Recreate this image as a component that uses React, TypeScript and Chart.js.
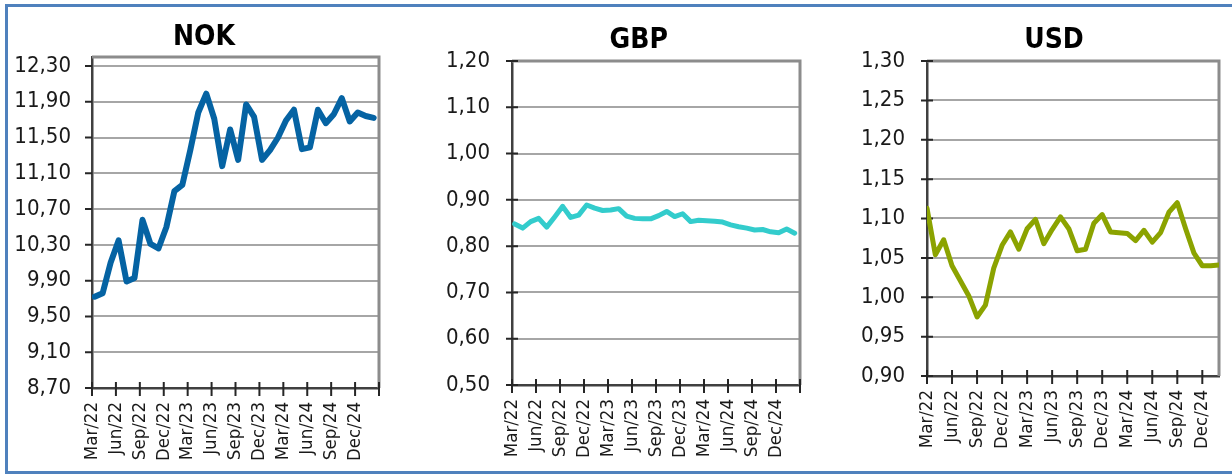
import React, { useEffect, useRef } from 'react';
import { Chart, registerables } from 'chart.js';

Chart.register(...registerables);

// ---- data ----
const quarterLabels = ['Mar/22', 'Jun/22', 'Sep/22', 'Dec/22', 'Mar/23', 'Jun/23', 'Sep/23', 'Dec/23', 'Mar/24', 'Jun/24', 'Sep/24', 'Dec/24'];

const nokValues = [9.72, 9.76, 10.10, 10.35, 9.89, 9.93, 10.58, 10.31, 10.26, 10.50, 10.90, 10.97, 11.36, 11.78, 11.99, 11.71, 11.18, 11.59, 11.25, 11.87, 11.73, 11.25, 11.36, 11.50, 11.69, 11.81, 11.37, 11.39, 11.81, 11.66, 11.76, 11.94, 11.68, 11.78, 11.74, 11.72];
const gbpValues = [0.848, 0.839, 0.853, 0.860, 0.841, 0.863, 0.886, 0.862, 0.867, 0.889, 0.882, 0.877, 0.878, 0.881, 0.865, 0.860, 0.859, 0.859, 0.866, 0.875, 0.864, 0.870, 0.853, 0.856, 0.855, 0.854, 0.852, 0.846, 0.842, 0.839, 0.835, 0.836, 0.831, 0.829, 0.837, 0.828];
const usdValues = [1.113, 1.054, 1.073, 1.040, 1.021, 1.002, 0.975, 0.990, 1.037, 1.066, 1.083, 1.061, 1.087, 1.099, 1.068, 1.086, 1.102, 1.087, 1.059, 1.061, 1.094, 1.105, 1.083, 1.082, 1.081, 1.072, 1.085, 1.070, 1.082, 1.108, 1.120, 1.087, 1.056, 1.040, 1.040, 1.041];

const nokTicks = [8.7, 9.1, 9.5, 9.9, 10.3, 10.7, 11.1, 11.5, 11.9, 12.3];
const gbpTicks = [0.5, 0.6, 0.7, 0.8, 0.9, 1.0, 1.1, 1.2];
const usdTicks = [0.9, 0.95, 1.0, 1.05, 1.1, 1.15, 1.2, 1.25, 1.3];

// observation day within the month (fraction of a month)
const nokObsDay = 1 / 3;
const gbpObsDay = 1 / 3;
const usdObsDay = 0;

const FONT = '"DejaVu Sans Condensed", "DejaVu Sans", sans-serif';

type PanelCfg = {
  title: string;
  values: number[];
  obsDay: number;
  months: number; // axis length in months
  yMin: number;
  yMax: number;
  yTicks: number[];
  color: string;
  lineWidth: number;
  left: number;
  width: number;
  plotLeft: number;
  plotRight: number;
  plotTop: number;
  plotBottom: number;
  labelGap: number;
  tickOut: number;
  tickIn: number;
  titleX: number;
  titleTop: number;
};

const H = 474;
const X_AXIS_H = 80;

const panels: PanelCfg[] = [
  {
    title: 'NOK', values: nokValues, obsDay: nokObsDay, months: 36,
    yMin: 8.7, yMax: 12.4, yTicks: nokTicks, color: '#0563a3', lineWidth: 6,
    left: 0, width: 410, plotLeft: 92, plotRight: 379, plotTop: 57, plotBottom: 388,
    labelGap: 21, tickOut: 7, tickIn: 0, titleX: 204, titleTop: 22,
  },
  {
    title: 'GBP', values: gbpValues, obsDay: gbpObsDay, months: 36,
    yMin: 0.5, yMax: 1.2, yTicks: gbpTicks, color: '#33cccc', lineWidth: 5,
    left: 410, width: 410, plotLeft: 102, plotRight: 390, plotTop: 61, plotBottom: 385,
    labelGap: 22, tickOut: 6, tickIn: 6, titleX: 228.7, titleTop: 25,
  },
  {
    title: 'USD', values: usdValues, obsDay: usdObsDay, months: 35,
    yMin: 0.9, yMax: 1.3, yTicks: usdTicks, color: '#8ba300', lineWidth: 5,
    left: 820, width: 412, plotLeft: 107, plotRight: 399, plotTop: 61, plotBottom: 376,
    labelGap: 22, tickOut: 6, tickIn: 6, titleX: 234, titleTop: 25,
  },
];

const fmt = (v: number) => v.toFixed(2).replace('.', ',');

function PanelChart({ cfg }: { cfg: PanelCfg }) {
  const ref = useRef<HTMLCanvasElement | null>(null);
  useEffect(() => {
    if (!ref.current) return;
    const xTickVals: number[] = [];
    for (let m = 0; m <= cfg.months; m += 3) xTickVals.push(m);

    const framePlugin = {
      id: 'frame',
      beforeDatasetsDraw(chart: any) {
        const { ctx, chartArea: a, scales } = chart;
        ctx.save();
        ctx.strokeStyle = '#8c8c8c';
        ctx.lineWidth = 3;
        ctx.beginPath();
        ctx.moveTo(a.left, a.top);
        ctx.lineTo(a.right, a.top);
        ctx.lineTo(a.right, a.bottom);
        ctx.stroke();
        ctx.strokeStyle = '#262626';
        ctx.lineWidth = 2;
        ctx.beginPath();
        scales.y.ticks.forEach((t: any) => {
          const y = scales.y.getPixelForValue(t.value);
          ctx.moveTo(a.left - cfg.tickOut, y);
          ctx.lineTo(a.left + cfg.tickIn, y);
        });
        scales.x.ticks.forEach((t: any) => {
          const x = scales.x.getPixelForValue(t.value);
          ctx.moveTo(x, a.bottom - 6);
          ctx.lineTo(x, a.bottom + 8);
        });
        ctx.stroke();
        ctx.restore();
      },
    };

    const chart = new Chart(ref.current, {
      type: 'line',
      data: {
        datasets: [
          {
            data: cfg.values.map((v, i) => ({ x: i + cfg.obsDay, y: v })),
            borderColor: cfg.color,
            borderWidth: cfg.lineWidth,
            borderCapStyle: 'round',
            borderJoinStyle: 'round',
            pointRadius: 0,
            tension: 0,
            fill: false,
          },
        ],
      },
      options: {
        animation: false,
        responsive: true,
        maintainAspectRatio: false,
        layout: {
          padding: {
            left: 0,
            top: cfg.plotTop,
            right: cfg.width - cfg.plotRight,
            bottom: H - cfg.plotBottom - X_AXIS_H,
          },
        },
        plugins: { legend: { display: false }, tooltip: { enabled: false }, title: { display: false } },
        scales: {
          x: {
            type: 'linear',
            min: 0,
            max: cfg.months,
            afterBuildTicks: (scale: any) => {
              scale.ticks = xTickVals.map((v) => ({ value: v }));
            },
            afterFit: (scale: any) => {
              scale.height = X_AXIS_H;
              scale.paddingLeft = 0;
              scale.paddingRight = 0;
            },
            grid: { display: false, drawTicks: false },
            border: { display: true, color: '#404040', width: 2.5 },
            ticks: {
              autoSkip: false,
              maxRotation: 90,
              minRotation: 90,
              padding: 14,
              color: '#1a1a1a',
              font: { family: FONT, size: 18.5 },
              callback: (value: any) => quarterLabels[Math.round(Number(value) / 3)] ?? '',
            },
          },
          y: {
            type: 'linear',
            min: cfg.yMin,
            max: cfg.yMax,
            afterBuildTicks: (scale: any) => {
              scale.ticks = cfg.yTicks.map((v) => ({ value: v }));
            },
            afterFit: (scale: any) => {
              scale.width = cfg.plotLeft;
              scale.paddingTop = 0;
              scale.paddingBottom = 0;
            },
            grid: { display: true, drawTicks: false, color: '#a6a6a6', lineWidth: 2 },
            border: { display: true, color: '#404040', width: 2.5 },
            ticks: {
              padding: cfg.labelGap,
              color: '#1a1a1a',
              font: { family: FONT, size: 22 },
              callback: (value: any) => fmt(Number(value)),
            },
          },
        },
      },
      plugins: [framePlugin],
    } as any);
    return () => chart.destroy();
  }, [cfg]);

  return (
    <div style={{ position: 'absolute', left: cfg.left, top: 0, width: cfg.width, height: H }}>
      <canvas ref={ref} />
      <div
        style={{
          position: 'absolute',
          left: cfg.titleX - 100,
          width: 200,
          top: cfg.titleTop,
          textAlign: 'center',
          fontFamily: FONT,
          fontWeight: 'bold',
          fontSize: 28,
          lineHeight: '28px',
          color: '#000',
        }}
      >
        {cfg.title}
      </div>
    </div>
  );
}

export default function App() {
  return (
    <div style={{ position: 'absolute', left: 0, top: 0, width: 1232, height: H, overflow: 'hidden', background: '#fff' }}>
      {panels.map((p) => (
        <PanelChart key={p.title} cfg={p} />
      ))}
      <div
        style={{
          position: 'absolute',
          left: 5,
          top: 4,
          width: 1227,
          height: 470,
          boxSizing: 'border-box',
          borderTop: '3px solid #4f81bd',
          borderLeft: '3px solid #4f81bd',
          borderBottom: '3px solid #4f81bd',
          pointerEvents: 'none',
        }}
      />
    </div>
  );
}
